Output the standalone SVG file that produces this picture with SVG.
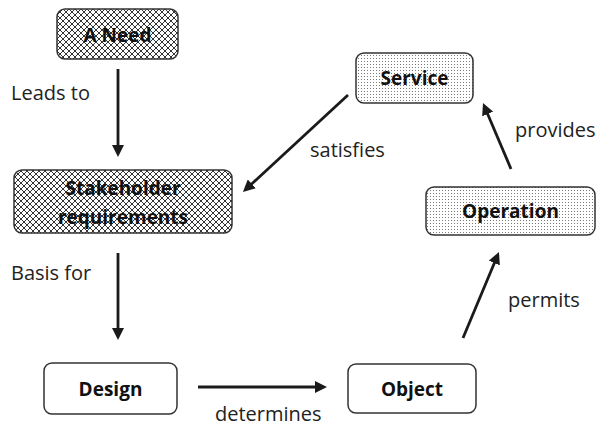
<svg xmlns="http://www.w3.org/2000/svg" width="602" height="428" viewBox="0 0 602 428">
<style>
.box{stroke:#333;stroke-width:1.5}
.plain{fill:#fff}
.hatch{fill:url(#hatch)}
.dots{fill:url(#dots)}
.nt{font-family:"Open Sans","Liberation Sans",sans-serif;font-weight:bold;font-size:19px;fill:#111;text-anchor:middle}
.lt{font-family:"Open Sans","Liberation Sans",sans-serif;font-size:20px;fill:#222}
.edge{stroke:#1a1a1a;stroke-width:2.8;fill:none;marker-end:url(#arr)}
</style>
<defs>
<pattern id="hatch" width="6" height="6" patternUnits="userSpaceOnUse">
<rect width="6" height="6" fill="#fff"/>
<path d="M0,0 L6,6 M6,0 L0,6" stroke="#333" stroke-width="1"/>
</pattern>
<pattern id="dots" width="3" height="3" patternUnits="userSpaceOnUse">
<rect width="3" height="3" fill="#fff"/>
<rect x="1" y="1" width="1" height="1" fill="#777"/>
</pattern>
<marker id="arr" viewBox="0 0 12 12" markerWidth="12" markerHeight="12" markerUnits="userSpaceOnUse" refX="2" refY="6" orient="auto">
<path d="M0,0 L12,6 L0,12 z" fill="#1a1a1a"/>
</marker>
</defs>
<g id="need"><rect class="box hatch" x="57" y="9" width="121" height="50" rx="8"/><text class="nt" x="117.5" y="42">A Need</text></g>
<g id="stakeholder"><rect class="box hatch" x="14" y="170" width="218" height="63" rx="8"/><text class="nt" x="123" y="195">Stakeholder</text><text class="nt" x="123" y="224">requirements</text></g>
<g id="service"><rect class="box dots" x="356" y="53" width="117" height="50" rx="8"/><text class="nt" x="414.5" y="85">Service</text></g>
<g id="operation"><rect class="box dots" x="426" y="187" width="169" height="48" rx="8"/><text class="nt" x="510.5" y="218">Operation</text></g>
<g id="design"><rect class="box plain" x="44" y="363" width="133" height="51" rx="8"/><text class="nt" x="110.5" y="396">Design</text></g>
<g id="object"><rect class="box plain" x="348" y="364" width="128" height="49" rx="8"/><text class="nt" x="412" y="396">Object</text></g>
<g id="connectors">
<line class="edge" x1="118" y1="69" x2="118" y2="147"/>
<line class="edge" x1="118" y1="253" x2="118" y2="330"/>
<line class="edge" x1="348" y1="95" x2="250.3" y2="185.2"/>
<line class="edge" x1="511" y1="169" x2="486.9" y2="112.2"/>
<line class="edge" x1="463" y1="338" x2="495.1" y2="261.2"/>
<line class="edge" x1="198" y1="387" x2="317" y2="387"/>
<text class="lt" x="11" y="100">Leads to</text>
<text class="lt" x="11" y="280">Basis for</text>
<text class="lt" x="310" y="157">satisfies</text>
<text class="lt" x="515" y="137">provides</text>
<text class="lt" x="508" y="307">permits</text>
<text class="lt" x="215" y="421">determines</text>
</g>
</svg>
